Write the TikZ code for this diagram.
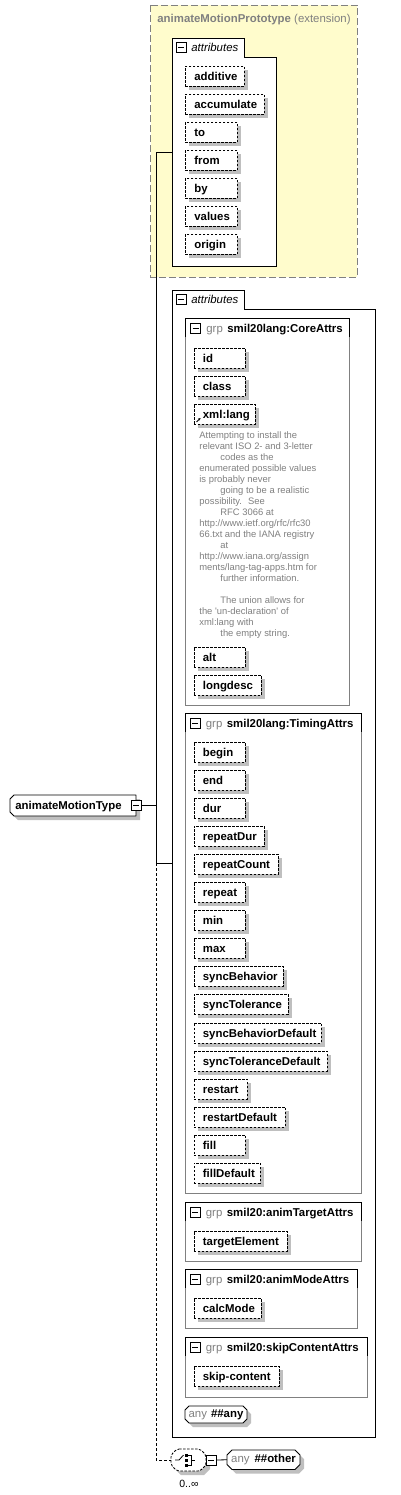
\documentclass[tikz,border=0pt]{standalone}
\usepackage{fontspec}
\setmainfont{Liberation Sans}
\usetikzlibrary{shadows,arrows.meta}
\newcommand\fsz{\fontsize{11.4}{13}\selectfont}
\tikzset{
  attrnode/.style={draw, dash pattern=on 2.5pt off 1.5pt, fill=white, minimum height=20pt,
    inner xsep=9pt, inner ysep=0pt, text height=9.5pt, text depth=1pt,
    font=\fsz\bfseries,
    drop shadow={shadow xshift=4pt, shadow yshift=-4pt, fill=black!25, draw=none, opacity=1}},
  minus/.style={draw, fill=white, minimum size=10pt, inner sep=0pt, line width=0.8pt,
    path picture={\draw[line width=0.8pt] ([xshift=2pt]path picture bounding box.west) -- ([xshift=-2pt]path picture bounding box.east);}},
  lbl/.style={anchor=base west, inner sep=0pt, font=\fsz},
  plain/.style={inner sep=0pt, font=\fsz\bfseries},
  dashconn/.style={dash pattern=on 3pt off 2pt},
}
\newcommand\attr[5]{%
  \pgfmathsetmacro\attrtw{#4-#2-18}%
  \node[attrnode, anchor=north west] (#1) at (#2,#3) {\makebox[\attrtw pt][l]{#5}};
}
\newcommand\grpbox[6]{%
  \draw[gray, fill=white] (#2,#3) rectangle (#4,#5);
  \draw (#2,#3+19) -- (#2,#3) -- (#4,#3) -- (#4,#3+19);
  \node[minus] (#1m) at (#2+10,#3+10) {};
  \node[lbl, text=gray, font=\fsz] (#1g) at (#2+20.5,#3+14) {grp};
  \node[lbl, font=\fsz\bfseries] (#1n) at (#2+41.5,#3+14) {#6};
}
% chamfered outline with shadow: [opts]{x1}{y1}{x2}{y2}{cut}
\newcommand\chambox[6][]{%
  \fill[black!25, line join=round] (#2+4+#6,#3+4) -- (#4+4-#6,#3+4) -- (#4+4,#3+4+#6) -- (#4+4,#5+4-#6)
    -- (#4+4-#6,#5+4) -- (#2+4+#6,#5+4) -- (#2+4,#5+4-#6) -- (#2+4,#3+4+#6) -- cycle;
  \draw[fill=white, line join=round, #1] (#2+#6,#3) -- (#4-#6,#3) -- (#4,#3+#6) -- (#4,#5-#6)
    -- (#4-#6,#5) -- (#2+#6,#5) -- (#2,#5-#6) -- (#2,#3+#6) -- cycle;
}
\begin{document}
\begin{tikzpicture}[x=1pt,y=-1pt,line width=0.8pt]
\useasboundingbox (0,0) rectangle (400,1495);

% ---------- prototype (extension)
\draw[gray, fill=yellow!20, dash pattern=on 7pt off 3pt] (150.5,5) rectangle (357,277);
\node[lbl, text=gray] (prototitle) at (157,23) {\textbf{animateMotionPrototype} (extension)};

\draw[fill=white] (172,266) -- (172,38) -- (244,38) -- (244,57) -- (276,57) -- (276,266) -- cycle;
\node[minus] (pm) at (181,47.7) {};
\node[lbl, font=\fsz\itshape] (pa) at (191,51.5) {attributes};
\attr{p1}{185}{66}{244}{additive}
\attr{p2}{185}{94}{264}{accumulate}
\attr{p3}{185}{122}{237}{to}
\attr{p4}{185}{150}{237}{from}
\attr{p5}{185}{178}{237}{by}
\attr{p6}{185}{206}{237}{values}
\attr{p7}{185}{234}{237}{origin}

% ---------- main attributes container
\draw[fill=white] (172,1437) -- (172,290) -- (244,290) -- (244,309) -- (375,309) -- (375,1437) -- cycle;
\node[minus] (am) at (181,299.7) {};
\node[lbl, font=\fsz\itshape] (aa) at (191,303.5) {attributes};

% CoreAttrs
\grpbox{g1}{185.5}{318}{349}{705}{smil20lang:CoreAttrs}
\attr{c1}{193.5}{348}{245}{id}
\attr{c2}{193.5}{376}{245}{class}
\attr{c3}{193.5}{404}{255}{xml:lang}
\draw[-{Stealth[length=2.5pt,width=2.5pt]}, line width=0.9pt] (196.5,422) -- (200.5,418);
\node[anchor=north west, inner sep=0pt, align=left, text=gray, font=\fontsize{9.4}{11}\selectfont] (doc) at (199,431.5)
{Attempting to install the\\
relevant ISO 2- and 3-letter\\
\hspace*{21pt}codes as the\\
enumerated possible values\\
is probably never\\
\hspace*{21pt}going to be a realistic\\
possibility.~ See\\
\hspace*{21pt}RFC 3066 at\\
http://www.ietf.org/rfc/rfc30\\
66.txt and the IANA registry\\
\hspace*{21pt}at\\
http://www.iana.org/assign\\
ments/lang-tag-apps.htm for\\
\hspace*{21pt}further information.\\
\mbox{}\\
\hspace*{21pt}The union allows for\\
the \textquotesingle un-declaration\textquotesingle\ of\\
xml:lang with\\
\hspace*{21pt}the empty string.};
\attr{c4}{193.5}{647}{245}{alt}
\attr{c5}{193.5}{675}{261}{longdesc}

% TimingAttrs
\grpbox{g2}{185}{713}{361}{1193}{smil20lang:TimingAttrs}
\attr{t1}{193.5}{742}{245}{begin}
\attr{t2}{193.5}{770}{245}{end}
\attr{t3}{193.5}{798}{245}{dur}
\attr{t4}{193.5}{826}{264}{repeatDur}
\attr{t5}{193.5}{854}{278}{repeatCount}
\attr{t6}{193.5}{882}{245}{repeat}
\attr{t7}{193.5}{910}{245}{min}
\attr{t8}{193.5}{938}{245}{max}
\attr{t9}{193.5}{966}{283}{syncBehavior}
\attr{t10}{193.5}{994}{288}{syncTolerance}
\attr{t11}{193.5}{1022.5}{321}{syncBehaviorDefault}
\attr{t12}{193.5}{1050.5}{327}{syncToleranceDefault}
\attr{t13}{193.5}{1078.5}{247}{restart}
\attr{t14}{193.5}{1106.5}{285}{restartDefault}
\attr{t15}{193.5}{1134.5}{245}{fill}
\attr{t16}{193.5}{1162.5}{260}{fillDefault}

% animTargetAttrs
\grpbox{g3}{185}{1202}{361}{1261}{smil20:animTargetAttrs}
\attr{ta1}{193.5}{1231}{287}{targetElement}

% animModeAttrs
\grpbox{g4}{185}{1269}{357}{1328}{smil20:animModeAttrs}
\attr{am1}{193.5}{1298}{261}{calcMode}

% skipContentAttrs
\grpbox{g5}{185}{1337}{367}{1397}{smil20:skipContentAttrs}
\attr{sk1}{193.5}{1366}{279}{skip-content}

% any ##any
\chambox{185}{1406}{247}{1423}{4}
\node[plain] (anyany) at (216,1414.5) {{\mdseries\color{gray}any}\hspace{4pt}\#\#any};

% ---------- type node
\fill[black!25] (18,799) -- (140,799) -- (140,820) -- (18,820) -- (14,816) -- (14,803) -- cycle;
\draw[fill=white, line join=round] (14,795) -- (136,795) -- (136,816) -- (14,816) -- (10,812) -- (10,799) -- cycle;
\node[lbl, font=\fsz\bfseries] (amt) at (15,809.5) {animateMotionType};
\node[minus] (amtm) at (136,805.5) {};

% ---------- connectors
\coordinate (s1) at (156,152);
\coordinate (s2) at (156,863);
\coordinate (s3) at (156,1460);
\coordinate (c1in) at (172,152);
\coordinate (c2in) at (172,863);
\draw (c1in) -- (s1) -- (s2) -- (c2in);
\draw (amtm.east) -- (amtm.east -| s1);

% ---------- compositor
\chambox[dash pattern=on 2.5pt off 1.5pt, rounded corners=2pt]{171}{1449}{206}{1471}{6}
\node[minimum width=35pt, minimum height=22pt, inner sep=0pt] (comp) at (188.5,1460) {};
\draw[dashconn] (s2) -- (s3) -- (comp.west);
\draw (175,1460) -- (179,1460) -- (183.5,1455);
\fill (185,1453.5) rectangle (188,1456.5);
\fill (185,1458.5) rectangle (188,1461.5);
\fill (185,1463.5) rectangle (188,1466.5);
\draw (188,1455) -- (191.5,1455) -- (191.5,1465) -- (188,1465);
\draw (191.5,1460) -- (195,1460);
\node[anchor=base west, inner sep=0pt, font=\fontsize{10.5}{12}\selectfont] (occ) at (179,1487) {0..∞};
\node[minus] (compm) at (211,1460) {};
\chambox{227}{1450}{300}{1469.5}{5}
\node[plain] (other) at (263.5,1459.75) {{\mdseries\color{gray}any}\hspace{5pt}\#\#other};
\draw (comp.east) -- (compm.west);
\draw (compm.east) -- (227,1459.75);
\end{tikzpicture}
\end{document}
